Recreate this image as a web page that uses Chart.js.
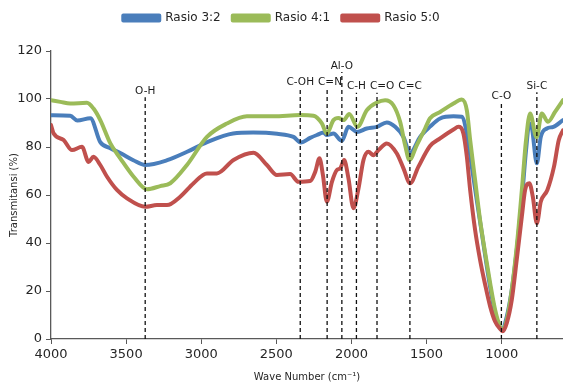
<!DOCTYPE html>
<html>
<head>
<meta charset="utf-8">
<script src="https://cdn.jsdelivr.net/npm/chart.js@4"></script>
<style>
  html, body { margin: 0; padding: 0; background: #fff; }
  #wrap { width: 563px; height: 383px; }
</style>
</head>
<body>
<div id="wrap"><canvas id="ftir"></canvas></div>
<script>
// wave numbers (cm-1) and transmittance (%)
const wn32 = [4000, 3872, 3825, 3738, 3672, 3605, 3539, 3452, 3373, 3227, 3094, 2961, 2788, 2655, 2495, 2386, 2337, 2275, 2230, 2186, 2164, 2120, 2064, 2020, 1964, 1898, 1831, 1765, 1709, 1654, 1610, 1543, 1477, 1410, 1321, 1266, 1232, 1199, 1166, 1132, 1099, 1066, 1033, 999, 966, 933, 900, 866, 838, 816, 800, 766, 740, 700, 656, 592];
const t32 = [93.2, 93, 91, 92, 82, 79.5, 77.5, 74.5, 72.5, 74.5, 78, 82, 85.6, 86, 85.5, 84.2, 81.9, 83.8, 85, 86, 85, 85.6, 82.6, 88.4, 86.3, 87.7, 88.4, 90.2, 88.4, 84.2, 77.5, 84.2, 88.5, 91.9, 92.8, 92.6, 85.6, 71.8, 57.9, 44, 30.2, 17.7, 8, 3.9, 9.4, 20.5, 37, 58, 78.7, 89.8, 88.4, 73.2, 84.2, 87.7, 88.4, 91.2];

const wn41 = [4000, 3938, 3872, 3761, 3717, 3672, 3605, 3539, 3450, 3361, 3273, 3206, 3095, 2962, 2829, 2696, 2519, 2341, 2253, 2197, 2164, 2120, 2087, 2053, 2015, 1960, 1898, 1831, 1776, 1721, 1676, 1643, 1614, 1565, 1510, 1477, 1410, 1321, 1266, 1232, 1210, 1177, 1144, 1110, 1077, 1044, 1010, 993, 966, 933, 900, 866, 838, 811, 768, 733, 692, 645, 592];
const t41 = [99.5, 98.8, 98.1, 98.4, 96, 91.2, 81.5, 75.3, 67.6, 62.4, 63.7, 64.9, 72.5, 84.2, 89.8, 92.8, 92.8, 93.3, 93, 89.8, 85.6, 91.2, 92.1, 91.2, 93.7, 88.4, 95.3, 98.5, 99.5, 97.4, 90.5, 80.8, 74.6, 80.8, 87.7, 92, 94.6, 98.1, 99.8, 95.3, 82.9, 66.2, 49.6, 35.8, 23.3, 12.2, 5, 3.6, 8, 20.5, 38.5, 62, 82.9, 94, 84, 94, 90.5, 94.6, 99.5];

const wn50 = [4000, 3983, 3916, 3860, 3794, 3750, 3717, 3672, 3627, 3561, 3494, 3373, 3295, 3228, 3140, 3051, 2962, 2896, 2785, 2652, 2563, 2496, 2408, 2353, 2275, 2241, 2213, 2190, 2164, 2130, 2097, 2075, 2049, 2020, 1987, 1953, 1920, 1887, 1854, 1820, 1765, 1698, 1654, 1610, 1554, 1477, 1410, 1321, 1288, 1255, 1232, 1210, 1177, 1144, 1110, 1077, 1044, 1010, 993, 966, 933, 900, 866, 844, 816, 793, 766, 740, 696, 652, 620, 592];
const t50 = [89.1, 85.7, 82.9, 78.7, 80.1, 73.8, 75.9, 72.5, 67.6, 62.1, 58.6, 55.1, 55.8, 55.8, 59.3, 64.9, 69, 69, 74.6, 77.6, 72.5, 68.3, 68.7, 65.5, 65.8, 69.7, 75.3, 68.3, 57.2, 65.5, 70.4, 71.1, 74.6, 66.9, 54.5, 62.8, 74.6, 78, 76.6, 78.7, 81.5, 77.3, 71.1, 64.9, 71.8, 80.4, 83.6, 87.3, 88.4, 85.6, 75.9, 62.1, 45.4, 33, 22.6, 13.6, 7.3, 4.2, 3.2, 6.7, 16.3, 33, 51, 62.1, 64.9, 59.3, 48.2, 57.2, 62.1, 71.8, 82.9, 87];

// band assignments: wave number, label, top of the marker line (%)
const bandWn = [3373, 2341, 2162, 2064, 1967, 1830, 1611, 1002, 766];
const bandLabel = ['O-H', 'C-OH', 'C=N', 'Al-O', 'C-H', 'C=O', 'C=C', 'C-O', 'Si-C'];
const bandTop = [100.7, 104.5, 104.5, 111.2, 102.6, 102.6, 102.8, 98.7, 102.8];

const xTicks = [4000, 3500, 3000, 2500, 2000, 1500, 1000];

const seriesNames = ['Rasio 3:2', 'Rasio 4:1', 'Rasio 5:0'];
const seriesColors = ['#4a7ebb', '#9bbb59', '#c0504d'];

function pts(xs, ys) {
  return xs.map((x, i) => ({ x: x, y: ys[i] }));
}

const datasets = [
  { label: seriesNames[0], data: pts(wn32, t32), order: 3 },
  { label: seriesNames[1], data: pts(wn41, t41), order: 2 },
  { label: seriesNames[2], data: pts(wn50, t50), order: 1 }
].map((d, i) => Object.assign(d, {
  borderColor: seriesColors[i],
  backgroundColor: seriesColors[i],
  borderWidth: 4,
  pointRadius: 0,
  cubicInterpolationMode: 'monotone',
  borderJoinStyle: 'round',
  borderCapStyle: 'round'
}));

bandWn.forEach((w, i) => {
  datasets.push({
    label: 'band-' + bandLabel[i],
    data: [{ x: w, y: 0 }, { x: w, y: bandTop[i] }],
    borderColor: '#111',
    borderWidth: 1.3,
    borderDash: [4, 3],
    pointRadius: 0,
    order: 0
  });
});

// band names above the dashed lines; nudge a label right if it runs into its neighbour
const bandText = {
  id: 'bandText',
  afterDatasetsDraw(chart) {
    const { ctx, scales } = chart;
    ctx.save();
    ctx.font = '10.5px "DejaVu Sans"';
    ctx.fillStyle = '#1a1a1a';
    ctx.textAlign = 'center';
    ctx.textBaseline = 'middle';
    let prev = null;
    bandWn.forEach((w, i) => {
      let px = scales.x.getPixelForValue(w);
      const py = scales.y.getPixelForValue(bandTop[i]) - 6;
      const half = ctx.measureText(bandLabel[i]).width / 2;
      if (prev && Math.abs(prev.y - py) < 8 && px - half < prev.right + 4) {
        px = prev.right + 4 + half;
      }
      ctx.fillText(bandLabel[i], px, py);
      prev = { y: py, right: px + half };
    });
    ctx.restore();
  }
};

// leave a gap under the legend, like the original
const legendGap = {
  id: 'legendGap',
  beforeInit(chart) {
    const fit = chart.legend.fit;
    chart.legend.fit = function () {
      fit.call(this);
      this.height += 17;
    };
  }
};

new Chart(document.getElementById('ftir'), {
  type: 'line',
  data: { datasets: datasets },
  options: {
    responsive: true,
    maintainAspectRatio: false,
    animation: false,
    layout: { padding: { top: 0, right: 0, left: 0, bottom: 0 } },
    plugins: {
      tooltip: { enabled: false },
      legend: {
        position: 'top',
        labels: {
          font: { family: 'DejaVu Sans', size: 12 },
          color: '#262626',
          boxWidth: 36,
          boxHeight: 5,
          padding: 12,
          sort: (a, b) => a.datasetIndex - b.datasetIndex,
          filter: (item) => item.datasetIndex < 3
        }
      }
    },
    scales: {
      x: {
        type: 'linear',
        reverse: true,
        min: 592,
        max: 4000,
        afterFit(s) { s.height = 44; },
        afterBuildTicks(s) { s.ticks = xTicks.map(v => ({ value: v })); },
        ticks: {
          color: '#262626',
          font: { family: 'DejaVu Sans', size: 13 },
          maxRotation: 0,
          autoSkip: false,
          padding: 3,
          callback: (v) => String(v)
        },
        grid: { drawOnChartArea: false, tickLength: 5, color: '#595959' },
        border: { color: '#595959', width: 1.3 },
        title: {
          display: true,
          text: 'Wave Number (cm\u207B\u00B9)',
          color: '#262626',
          font: { family: 'DejaVu Sans', size: 10 },
          padding: { top: 2, bottom: 0 }
        }
      },
      y: {
        min: 0,
        max: 120,
        afterFit(s) { s.width = 51; },
        ticks: {
          stepSize: 20,
          color: '#262626',
          font: { family: 'DejaVu Sans', size: 13 },
          padding: 4
        },
        grid: { drawOnChartArea: false, tickLength: 5, color: '#595959' },
        border: { color: '#595959', width: 1.3 },
        title: {
          display: true,
          text: 'Transmitansi (%)',
          color: '#262626',
          font: { family: 'DejaVu Sans', size: 10 },
          padding: { top: 8, bottom: 0 }
        }
      }
    }
  },
  plugins: [bandText, legendGap]
});
</script>
</body>
</html>
